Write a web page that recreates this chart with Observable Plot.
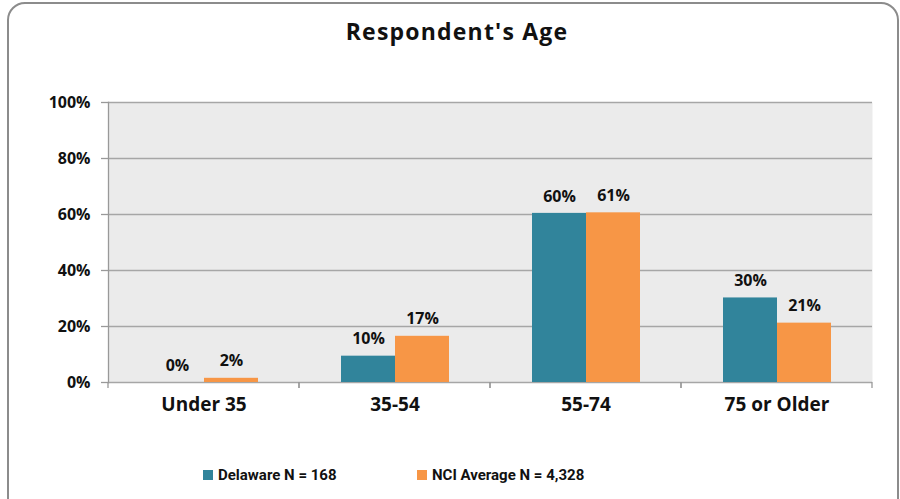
<!DOCTYPE html>
<html>
<head>
<meta charset="utf-8">
<script src="https://cdn.jsdelivr.net/npm/d3@7"></script>
<script src="https://cdn.jsdelivr.net/npm/@observablehq/plot@0.6"></script>
<style>
  body { margin: 0; background: #fff; font-family: "Open Sans", sans-serif; }
  #wrap { position: relative; width: 900px; height: 499px; overflow: hidden; }
  #border { position: absolute; left: 7px; top: 2px; width: 892px; height: 530px; border: 2px solid #8c8c8c; border-radius: 18px; box-sizing: border-box; }
  #title { position: absolute; top: 15px; left: 14px; width: 886px; text-align: center; font-weight: 700; font-size: 23px; letter-spacing: 1.2px; color: #111; }
  #chart { position: absolute; left: 0; top: 0; }
  #legend { position: absolute; top: 463px; left: 0; width: 900px; height: 24px; font-family: Roboto, sans-serif; font-weight: 700; font-size: 15px; color: #111; }
  .item { position: absolute; top: 0; display: flex; align-items: center; height: 24px; }
  .sw { width: 10px; height: 10px; margin-right: 5px; }
</style>
</head>
<body>
<div id="wrap">
  <div id="border"></div>
  <div id="title">Respondent's Age</div>
  <div id="chart"></div>
  <div id="legend"></div>
</div>
<script>
const categories = ["Under 35", "35-54", "55-74", "75 or Older"];
const seriesNames = ["Delaware N = 168", "NCI Average N = 4,328"];
const delaware = [0, 9.4, 60.4, 30.2];
const nci = [1.5, 16.5, 60.6, 21.2];
const delawareLabels = ["0%", "10%", "60%", "30%"];
const nciLabels = ["2%", "17%", "61%", "21%"];
const yTicks = [0, 20, 40, 60, 80, 100];
const colors = ["#31849b", "#f79646"];

const data = categories.flatMap((c, i) => [
  {category: c, series: seriesNames[0], value: delaware[i], label: delawareLabels[i]},
  {category: c, series: seriesNames[1], value: nci[i], label: nciLabels[i]}
]);

const boundaryTicks = (index, scales, values, dims) => {
  const g = d3.create("svg:g").attr("stroke", "#999").attr("stroke-width", 1.3);
  const yb = dims.height - dims.marginBottom;
  for (const xp of [dims.marginLeft, dims.width - dims.marginRight]) {
    g.append("line").attr("x1", xp).attr("x2", xp).attr("y1", yb).attr("y2", yb + 6);
  }
  return g.node();
};

const chart = Plot.plot({
  width: 900,
  height: 440,
  marginTop: 102,
  marginBottom: 58,
  marginLeft: 108,
  marginRight: 28,
  style: {fontFamily: "Open Sans", background: "transparent", color: "#111"},
  fx: {domain: categories, padding: 0, label: null},
  x: {domain: seriesNames, paddingInner: 0, paddingOuter: 0.75, axis: null},
  y: {domain: [0, 100], label: null},
  color: {domain: seriesNames, range: colors},
  marks: [
    Plot.frame({fill: "#ebebeb", stroke: null, facet: "super"}),
    Plot.gridY(yTicks, {stroke: "#a6a6a6", strokeOpacity: 1, strokeWidth: 1.3}),
    Plot.frame({anchor: "left", facetAnchor: "left", stroke: "#999", strokeWidth: 1.3}),
    Plot.barY(data, {fx: "category", x: "series", y: "value", fill: "series"}),
    Plot.text(data, {fx: "category", x: "series", y: "value", text: "label", dy: -17, fontSize: 16, fontWeight: 700, fill: "#111"}),
    Plot.axisY(yTicks, {tickFormat: d => d + "%", tickSize: 7, tickPadding: 11, fontSize: 16, fontWeight: 700, stroke: "#999", strokeWidth: 1.3, fill: "#111", label: null}),
    Plot.axisFx({anchor: "bottom", tickSize: 0, tickPadding: 15, fontSize: 19, fontWeight: 700, fill: "#111", label: null}),
    boundaryTicks
  ]
});
document.getElementById("chart").append(chart);

const legend = document.getElementById("legend");
const legendX = [203, 417];
seriesNames.forEach((s, i) => {
  const item = document.createElement("div");
  item.className = "item";
  item.style.left = legendX[i] + "px";
  const sw = document.createElement("div");
  sw.className = "sw";
  sw.style.background = colors[i];
  const t = document.createElement("span");
  t.textContent = s;
  item.append(sw, t);
  legend.append(item);
});
</script>
</body>
</html>
